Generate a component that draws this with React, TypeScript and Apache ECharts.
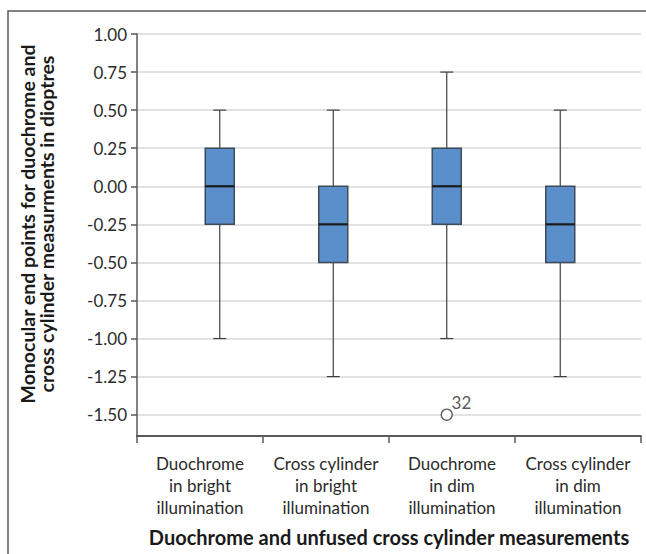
import React, { useEffect, useRef } from "react";
import * as echarts from "echarts";

const categories = [
  "Duochrome\nin bright\nillumination",
  "Cross cylinder\nin bright\nillumination",
  "Duochrome\nin dim\nillumination",
  "Cross cylinder\nin dim\nillumination",
];
// [min, Q1, median, Q3, max]
const whiskerMin = [-1.0, -1.25, -1.0, -1.25];
const quartile1 = [-0.25, -0.5, -0.25, -0.5];
const medians = [0.0, -0.25, 0.0, -0.25];
const quartile3 = [0.25, 0.0, 0.25, 0.0];
const whiskerMax = [0.5, 0.5, 0.75, 0.5];
const outliers = [[2, -1.5, "32"]];
const yTicks = [1.0, 0.75, 0.5, 0.25, 0.0, -0.25, -0.5, -0.75, -1.0, -1.25, -1.5];
const yMin = -1.64;
const yMax = 1.0;

const FONT = "Lato";
const TEXT = "#2b2b2b";
const AXIS = "#595959";

export default function App() {
  const ref = useRef<HTMLDivElement>(null);
  useEffect(() => {
    if (!ref.current) return;
    const chart = echarts.init(ref.current, undefined, { renderer: "svg" });
    const boxData = categories.map((_, i) => [
      i,
      whiskerMin[i],
      quartile1[i],
      medians[i],
      quartile3[i],
      whiskerMax[i],
    ]);
    chart.setOption({
      animation: false,
      backgroundColor: "#ffffff",
      textStyle: { fontFamily: FONT },
      grid: [
        { left: 137, top: 34, width: 504, height: 402 },
        { left: 163, top: 34, width: 454, height: 402 },
      ],
      xAxis: [
        {
          type: "category",
          gridIndex: 0,
          data: categories,
          boundaryGap: true,
          axisLine: { show: true, onZero: false, lineStyle: { color: AXIS, width: 2 } },
          axisTick: { show: true, length: 7, lineStyle: { color: AXIS, width: 1.5 } },
          axisLabel: {
            interval: 0,
            margin: 16,
            fontFamily: FONT,
            fontSize: 17,
            lineHeight: 22,
            color: TEXT,
            align: "center",
          },
          splitLine: { show: false },
        },
        {
          type: "category",
          gridIndex: 1,
          data: categories.map((_, i) => String(i)),
          show: false,
        },
      ],
      yAxis: [
        {
          type: "value",
          gridIndex: 0,
          min: yMin,
          max: yMax,
          axisLine: { show: true, lineStyle: { color: AXIS, width: 1.5 } },
          axisTick: {
            show: true,
            inside: false,
            length: 6,
            customValues: yTicks,
            lineStyle: { color: AXIS, width: 1.5 },
          },
          axisLabel: {
            customValues: yTicks,
            margin: 10,
            fontFamily: FONT,
            fontSize: 17,
            color: TEXT,
            formatter: (v: number) => v.toFixed(2),
          },
          splitLine: { show: true, lineStyle: { color: "#d9d9d9", width: 1.5 } },
        },
        {
          type: "value",
          gridIndex: 1,
          min: yMin,
          max: yMax,
          show: false,
          splitLine: { show: false },
        },
      ],
      series: [
        {
          type: "custom",
          xAxisIndex: 1,
          yAxisIndex: 1,
          data: boxData,
          encode: { x: 0, y: [1, 2, 3, 4, 5] },
          renderItem: (params: any, api: any) => {
            const x = api.value(0);
            const pMin = api.coord([x, api.value(1)]);
            const pQ1 = api.coord([x, api.value(2)]);
            const pMed = api.coord([x, api.value(3)]);
            const pQ3 = api.coord([x, api.value(4)]);
            const pMax = api.coord([x, api.value(5)]);
            const cx = pMin[0];
            const bw = 29;
            const cw = 13;
            const ws = { stroke: "#404040", lineWidth: 1.2 };
            return {
              type: "group",
              children: [
                { type: "line", shape: { x1: cx, y1: pMin[1], x2: cx, y2: pQ1[1] }, style: ws },
                { type: "line", shape: { x1: cx, y1: pQ3[1], x2: cx, y2: pMax[1] }, style: ws },
                { type: "line", shape: { x1: cx - cw / 2, y1: pMin[1], x2: cx + cw / 2, y2: pMin[1] }, style: ws },
                { type: "line", shape: { x1: cx - cw / 2, y1: pMax[1], x2: cx + cw / 2, y2: pMax[1] }, style: ws },
                {
                  type: "rect",
                  shape: { x: cx - bw / 2, y: pQ3[1], width: bw, height: pQ1[1] - pQ3[1] },
                  style: { fill: "#5b8fcb", stroke: "#3f4a58", lineWidth: 1.5 },
                },
                {
                  type: "line",
                  shape: { x1: cx - bw / 2, y1: pMed[1], x2: cx + bw / 2, y2: pMed[1] },
                  style: { stroke: "#1a1a1a", lineWidth: 2.2 },
                },
              ],
            };
          },
        },
        {
          type: "scatter",
          xAxisIndex: 1,
          yAxisIndex: 1,
          data: outliers.map((o) => [o[0], o[1]]),
          symbol: "circle",
          symbolSize: 11,
          itemStyle: { color: "#ffffff", borderColor: "#333333", borderWidth: 1.3 },
          label: {
            show: true,
            formatter: (p: any) => String(outliers[p.dataIndex][2]),
            position: [11, -15],
            align: "left",
            verticalAlign: "top",
            fontFamily: FONT,
            fontSize: 17,
            color: TEXT,
          },
          z: 5,
        },
      ],
      graphic: [
        {
          type: "polyline",
          shape: { points: [[8, 554], [8, 11], [646, 11]] },
          style: { stroke: AXIS, lineWidth: 1.5, fill: null },
          silent: true,
        },
        {
          type: "text",
          x: 37,
          y: 224,
          rotation: Math.PI / 2,
          style: {
            text: "Monocular end points for duochrome and\ncross cylinder measurments in dioptres",
            font: `bold 19.5px ${FONT}`,
            fill: "#1a1a1a",
            align: "center",
            verticalAlign: "middle",
            lineHeight: 19,
          },
        },
        {
          type: "text",
          x: 389,
          y: 537,
          style: {
            text: "Duochrome and unfused cross cylinder measurements",
            font: `bold 20px ${FONT}`,
            fill: "#1a1a1a",
            align: "center",
            verticalAlign: "middle",
          },
        },
      ],
    });
    return () => chart.dispose();
  }, []);
  return (
    <div
      ref={ref}
      style={{ position: "fixed", left: 0, top: 0, width: 646, height: 554 }}
    />
  );
}
